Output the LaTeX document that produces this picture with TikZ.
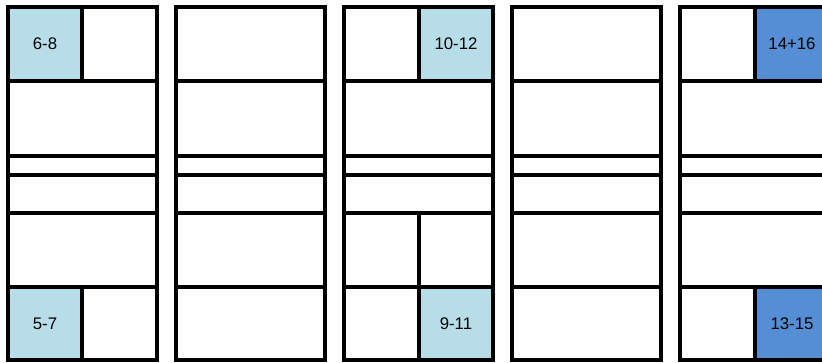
\documentclass[tikz,border=0pt]{standalone}
\usepackage{fontspec}
\setmainfont{Liberation Sans}
\definecolor{paleblue}{HTML}{B7DEE8}
\definecolor{midblue}{HTML}{558ED5}
\tikzset{
	wall/.style={line width=3pt,line join=miter},
	lbl/.style={font=\fontsize{12.6}{15}\selectfont,inner sep=0pt}
}
\begin{document}
\begin{tikzpicture}[x=0.75pt,y=-0.75pt]
		\useasboundingbox (0,0) rectangle (822,363);
		\clip (0,0) rectangle (822,363);
		
		% shaded cells
		\fill[paleblue] (8,7) rectangle (82,81);
		\fill[paleblue] (8,287) rectangle (82,360);
		\fill[paleblue] (419,7) rectangle (493,81);
		\fill[paleblue] (419,287) rectangle (493,360);
		\fill[midblue] (755,7) rectangle (829,81);
		\fill[midblue] (755,287) rectangle (829,360);
		
		% first column
		\draw[wall] (8,7) rectangle (157,360);
		\draw[wall] (8,81) -- (157,81);
		\draw[wall] (8,156) -- (157,156);
		\draw[wall] (8,175) -- (157,175);
		\draw[wall] (8,213) -- (157,213);
		\draw[wall] (8,287) -- (157,287);
		\draw[wall] (82,7) -- (82,81);
		\draw[wall] (82,287) -- (82,360);
		
		% second column
		\draw[wall] (176,7) rectangle (325,360);
		\draw[wall] (176,81) -- (325,81);
		\draw[wall] (176,156) -- (325,156);
		\draw[wall] (176,175) -- (325,175);
		\draw[wall] (176,213) -- (325,213);
		\draw[wall] (176,287) -- (325,287);
		
		% third column
		\draw[wall] (344,7) rectangle (493,360);
		\draw[wall] (344,81) -- (493,81);
		\draw[wall] (344,156) -- (493,156);
		\draw[wall] (344,175) -- (493,175);
		\draw[wall] (344,213) -- (493,213);
		\draw[wall] (344,287) -- (493,287);
		\draw[wall] (419,7) -- (419,81);
		\draw[wall] (419,213) -- (419,360);
		
		% fourth column
		\draw[wall] (512,7) rectangle (661,360);
		\draw[wall] (512,81) -- (661,81);
		\draw[wall] (512,156) -- (661,156);
		\draw[wall] (512,175) -- (661,175);
		\draw[wall] (512,213) -- (661,213);
		\draw[wall] (512,287) -- (661,287);
		
		% fifth column
		\draw[wall] (680,7) rectangle (829,360);
		\draw[wall] (680,81) -- (829,81);
		\draw[wall] (680,156) -- (829,156);
		\draw[wall] (680,175) -- (829,175);
		\draw[wall] (680,213) -- (829,213);
		\draw[wall] (680,287) -- (829,287);
		\draw[wall] (755,7) -- (755,81);
		\draw[wall] (755,287) -- (755,360);
		
		\node[lbl] (top68) at (45,44) {6-8};
		\node[lbl] (bot57) at (45,323.5) {5-7};
		\node[lbl] (top1012) at (456,44) {10-12};
		\node[lbl] (bot911) at (456,323.5) {9-11};
		\node[lbl] (top1416) at (792,44) {14+16};
		\node[lbl] (bot1315) at (792,323.5) {13-15};
	\end{tikzpicture}
\end{document}
